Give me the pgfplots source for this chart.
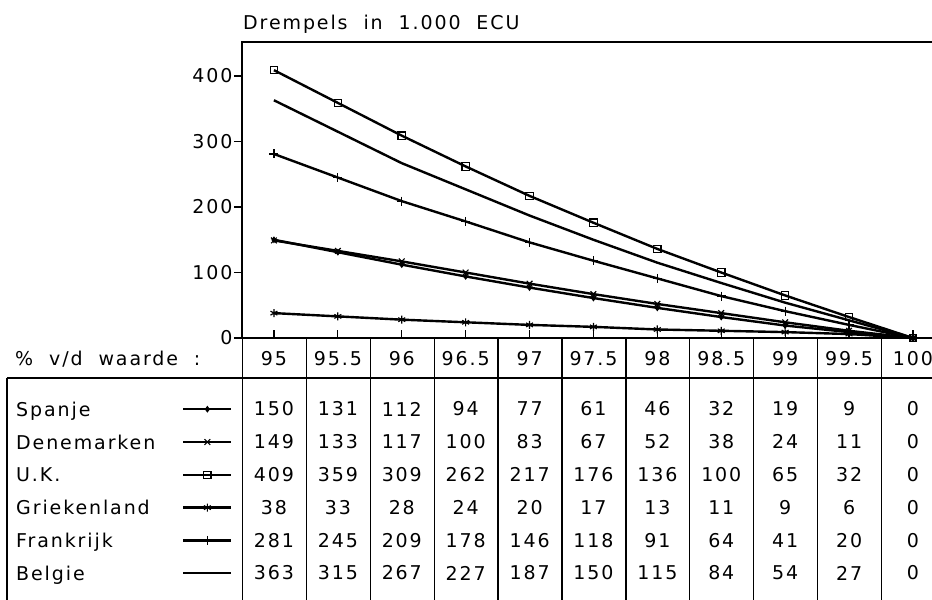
\documentclass[border=0pt]{standalone}
\usepackage{pgfplots}
\usepackage{pgfplotstable}
\pgfplotsset{compat=1.18}
\usepackage{fontspec}
\setmainfont[LetterSpace=10,WordSpace=2]{DejaVu Sans}

\pgfplotstableread{
x Spanje Denemarken UK Griekenland Frankrijk Belgie
95 150 149 409 38 281 363
95.5 131 133 359 33 245 315
96 112 117 309 28 209 267
96.5 94 100 262 24 178 227
97 77 83 217 20 146 187
97.5 61 67 176 17 118 150
98 46 52 136 13 91 115
98.5 32 38 100 11 64 84
99 19 24 65 9 41 54
99.5 9 11 32 6 20 27
100 0 0 0 0 0 0
}\data

\begin{document}
\begin{tikzpicture}[font=\fontsize{19bp}{23bp}\selectfont]
\begin{axis}[
  scale only axis, width=692bp, height=296bp,
  xmin=94.75, xmax=100.165, ymin=0, ymax=452,
  xtick={95,95.5,...,100}, xticklabels={},
  ytick={0,100,200,300,400},
  tick pos=left, tick align=inside,
  major tick length=8bp,
  every tick/.style={black, line width=1.2bp},
  ytick style={xshift=-8bp},
  yticklabel style={xshift=-6bp},
  axis line style={line width=1.3bp},
  /pgf/number format/assume math mode=true,
  tick label style={font=\fontsize{19bp}{23bp}\selectfont},
  legend plot pos=right,
  legend style={at={(-0.3266,-0.1845)}, anchor=north west, draw=none, fill=none,
    inner sep=0pt, row sep=0pt, column sep=0pt,
    nodes={inner sep=0pt, minimum height=32.8bp, text height=14bp, text depth=0bp},
    font=\fontsize{19bp}{23bp}\selectfont},
  legend cell align=left,
  legend image code/.code={\draw[mark repeat=2,mark phase=2,#1] plot coordinates {(0bp,0bp) (24bp,0bp) (48bp,0bp)};},
  every axis plot/.append style={black, line width=2.4bp, mark options={solid, line width=1.2bp}},
]
\addplot[mark=diamond*, mark size=2.5bp] table[x=x, y=Spanje] {\data};
\addlegendentry{\makebox[166bp][l]{Spanje}}
\addplot[mark=x, mark size=4bp] table[x=x, y=Denemarken] {\data};
\addlegendentry{\makebox[166bp][l]{Denemarken}}
\addplot[mark=square, mark size=3.7bp] table[x=x, y=UK] {\data};
\addlegendentry{\makebox[166bp][l]{U.K.}}
\addplot[mark=asterisk, mark size=4bp] table[x=x, y=Griekenland] {\data};
\addlegendentry{\makebox[166bp][l]{Griekenland}}
\addplot[mark=+, mark size=4.5bp] table[x=x, y=Frankrijk] {\data};
\addlegendentry{\makebox[166bp][l]{Frankrijk}}
\addplot[mark=none] table[x=x, y=Belgie] {\data};
\addlegendentry{\makebox[166bp][l]{Belgie}}
\coordinate (O) at (rel axis cs:0,0);
\end{axis}

\begin{scope}[shift={(O)}, xshift=-242bp, yshift=-262bp, x=1bp, y=1bp]
% title
\node[anchor=base west, inner sep=0pt] at (243,570) {Drempels in 1.000 ECU};
% header label
\node[anchor=base west, inner sep=0pt] at (15,234) {\% v/d waarde :};

% table grid
\begin{scope}[line width=1.3bp]
\draw (7,222) -- (940,222);
\draw (7,222) -- (7,-5);
\foreach \k in {0,...,10} { \draw ({242.5+63.9*\k},262) -- ({242.5+63.9*\k},-5); }
\end{scope}

% header numbers
\foreach \i in {0,...,10} {
  \pgfplotstablegetelem{\i}{x}\of\data
  \node[inner sep=0pt] at ({274+63.9*\i},241) {\pgfplotsretval};
}
% values
\foreach \col [count=\r from 0] in {Spanje,Denemarken,UK,Griekenland,Frankrijk,Belgie} {
  \foreach \i in {0,...,10} {
    \pgfplotstablegetelem{\i}{\col}\of\data
    \node[inner sep=0pt] at ({274+63.9*\i},{191-32.8*\r}) {\pgfplotsretval};
  }
}
\pgfresetboundingbox
\useasboundingbox (0,0) rectangle (932,600);
\end{scope}
\end{tikzpicture}
\end{document}
